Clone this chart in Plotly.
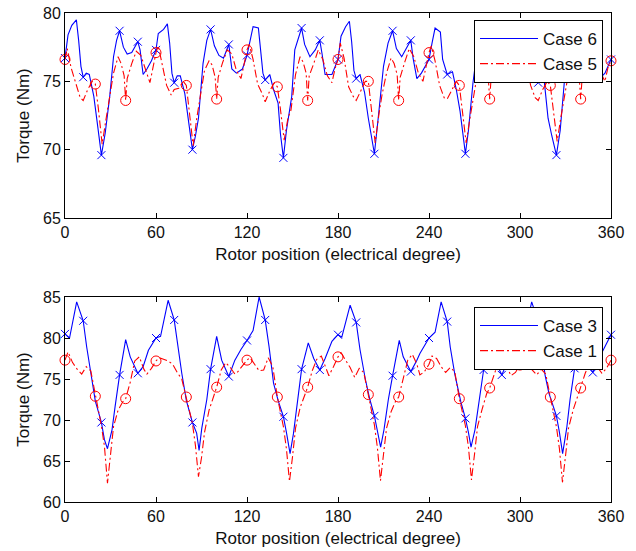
import plotly.graph_objects as go

# ---------------- data ----------------
x_ticks = [0, 60, 120, 180, 240, 300, 360]
y_ticks_top = [65, 70, 75, 80]
y_ticks_bot = [60, 65, 70, 75, 80, 85]

# Case 6 (top, blue solid)
case6_x = [0, 2, 4.5, 7.5, 9, 10.5, 12, 14, 16, 19, 21, 24, 26.5, 29.5, 32, 34, 36, 38.5, 41, 44, 48, 49.5, 51.5, 54, 57,
           60, 61.5, 65, 67.5, 69, 70.5, 72, 74, 76, 79, 81, 84, 86, 88, 91, 93.5, 96, 98.5, 101.5, 104.5, 108, 110, 113, 117,
           120, 122, 124, 127.5, 129, 130.5, 132, 135, 137.5, 140.5, 142, 144, 146, 149.5, 151.5, 156, 158, 161.5, 165, 168, 169.5, 171.5, 176,
           180, 182, 185, 187.5, 189, 190.5, 192, 194.5, 197.5, 200, 204, 206.5, 210, 213, 216, 218.5, 222, 225, 228, 229.5, 232, 235, 238,
           240, 242, 244, 247.5, 249, 252, 255.5, 258, 260.5, 264, 266, 269, 272, 276, 279, 282, 285, 288, 290, 292, 296,
           300, 302, 305, 307.5, 309, 310.5, 312, 314, 316, 318.5, 321, 324, 326.5, 329.5, 332, 336, 338.5, 341.5, 345, 348, 350, 352.5, 356, 360]
case6_y = [76.7, 78.4, 79.1, 79.5, 78.0, 76.1, 75.3, 75.6, 75.5, 73.9, 72.2, 69.6, 71.2, 73.9, 76.8, 78.0, 78.7, 77.5, 77.0, 77.1, 77.9, 77.3, 75.5, 75.9, 76.5,
           77.3, 78.5, 78.8, 79.2, 77.8, 75.6, 74.9, 75.4, 75.4, 74.1, 72.3, 70.0, 71.0, 72.3, 76.3, 78.0, 78.8, 77.6, 76.9, 76.7, 77.7, 75.9, 75.6, 75.9,
           76.9, 78.0, 79.0, 78.9, 77.2, 75.6, 75.1, 75.5, 74.4, 73.4, 71.2, 69.4, 71.4, 73.9, 77.3, 78.9, 77.7, 76.8, 77.3, 78.0, 77.0, 75.5, 75.5,
           76.6, 78.3, 79.0, 79.4, 77.9, 75.8, 75.2, 75.5, 74.2, 72.3, 69.7, 72.3, 76.1, 77.8, 78.7, 77.4, 76.8, 77.4, 78.0, 76.7, 75.2, 75.6, 76.2,
           76.6, 77.8, 78.9, 78.6, 76.6, 75.5, 75.7, 74.4, 72.8, 69.7, 71.4, 74.9, 77.5, 78.7, 77.5, 77.0, 77.2, 78.0, 76.5, 75.5, 76.0,
           77.0, 78.3, 79.0, 79.3, 77.5, 75.8, 74.9, 75.2, 75.0, 72.3, 71.0, 69.6, 71.4, 75.3, 77.5, 78.7, 77.5, 77.0, 77.2, 77.9, 76.5, 75.2, 75.6, 76.6]
case6_mark_x = [0, 12, 24, 36, 48, 60, 72, 84, 96, 108, 120, 132, 144, 156, 168, 180, 192, 204, 216, 228,
                240, 252, 264, 276, 288, 300, 312, 324, 336, 348, 360]
case6_mark_y = [76.7, 75.3, 69.6, 78.7, 77.9, 77.3, 74.9, 70.0, 78.8, 77.7, 76.9, 75.1, 69.4, 78.9, 78.0,
                76.6, 75.2, 69.7, 78.7, 78.0, 76.6, 75.5, 69.7, 78.7, 78.0, 77.0, 74.9, 69.6, 78.7, 77.9, 76.6]

# Case 5 (top, red dash-dot)
case5_x = [0, 1.5, 4, 7, 10, 12, 15, 18, 20, 22, 24.5, 27, 29, 32, 35, 37, 39, 40, 41, 44, 47, 50, 53, 56, 58,
           60, 61.5, 64, 67, 70, 72, 75, 78, 80, 82, 84.5, 87, 89, 92, 95, 97, 99, 100, 101, 104, 107, 110, 113, 116, 118,
           120, 121.5, 124, 127, 130, 132, 135, 138, 140, 142, 144.5, 147, 149, 152, 155, 157, 159, 160, 161, 164, 167, 170, 173, 176, 178,
           180, 181.5, 184, 187, 190, 192, 195, 198, 200, 202, 204.5, 207, 209, 212, 215, 217, 219, 220, 221, 224, 227, 230, 233, 236, 238,
           240, 241.5, 244, 247, 250, 252, 255, 258, 260, 262, 264.5, 267, 269, 272, 275, 277, 279, 280, 281, 284, 287, 290, 293, 296, 298,
           300, 301.5, 304, 307, 310, 312, 315, 318, 320, 322, 324.5, 327, 329, 332, 335, 337, 339, 340, 341, 344, 347, 350, 353, 356, 358,
           360]
case5_y = [76.6, 77.4, 76.0, 74.8, 73.8, 73.6, 74.4, 75.0, 74.8, 73.0, 70.4, 72.2, 73.6, 75.6, 76.8, 76.3, 75.4, 73.6, 75.2, 76.3, 77.2, 76.9, 75.9, 74.9, 76.0,
           77.1, 77.6, 76.3, 74.7, 74.0, 74.4, 74.5, 75.0, 74.7, 72.8, 70.3, 72.4, 73.8, 75.8, 76.5, 76.2, 75.3, 73.7, 75.3, 76.4, 77.3, 77.0, 75.8, 75.2, 76.2,
           77.3, 77.7, 76.6, 74.8, 74.1, 73.5, 74.3, 74.9, 74.6, 73.0, 70.7, 72.3, 72.9, 75.5, 76.8, 76.4, 75.6, 73.6, 75.4, 76.3, 77.3, 76.6, 75.4, 74.9, 75.9,
           76.6, 77.8, 76.7, 74.6, 73.9, 73.6, 74.3, 75.0, 75.0, 72.9, 70.5, 72.6, 74.0, 75.6, 76.7, 76.3, 75.5, 73.6, 75.3, 76.4, 77.4, 76.8, 75.6, 75.0, 76.1,
           77.1, 77.6, 76.5, 74.7, 73.8, 73.7, 74.4, 75.0, 74.7, 72.9, 70.5, 72.3, 73.7, 75.6, 76.8, 76.3, 75.4, 73.7, 75.3, 76.4, 77.2, 76.9, 75.7, 75.0, 76.2,
           77.0, 77.5, 76.4, 74.7, 73.8, 73.6, 74.4, 75.0, 74.7, 72.9, 70.6, 72.4, 73.8, 75.6, 76.7, 76.3, 75.4, 73.7, 75.3, 76.3, 77.2, 76.8, 75.7, 75.0, 76.0,
           76.5]
case5_mark_x = [0, 20, 40, 60, 80, 100, 120, 140, 160, 180, 200, 220, 240, 260, 280, 300, 320, 340, 360]
case5_mark_y = [76.6, 74.8, 73.6, 77.1, 74.7, 73.7, 77.3, 74.6, 73.6, 76.6, 75.0, 73.6, 77.1, 74.7, 73.7, 77.0, 74.7, 73.7, 76.5]

# Case 3 (bottom, blue solid)
case3_x = [0, 3, 7.7, 12, 14.3, 17.6, 20, 24, 26, 28, 31, 33, 36, 40, 43, 48, 51.5, 55,
           60, 63, 68, 72, 74.5, 77, 80, 84, 86.8, 88.4, 90.2, 93.5, 96, 100, 103.3, 108, 112, 116,
           120, 124, 128, 132, 134.5, 137.5, 140.5, 144, 146, 148.4, 150.6, 152.8, 156, 160.4, 164, 168, 171.5, 176,
           180, 182.5, 188, 192, 194.5, 198, 201, 204, 206, 208.1, 210.3, 213.2, 216, 220.4, 223, 228, 232, 234,
           240, 244, 248, 252, 254, 257, 261, 264, 266, 267.7, 270.3, 272.5, 276, 280, 283, 288, 291.5, 295,
           300, 303, 307.7, 312, 314.5, 316.5, 319, 324, 326, 328.1, 330.8, 333, 336, 340, 343, 348, 352, 357, 360]
case3_y = [80.5, 80.0, 84.4, 82.1, 78.9, 75.3, 72.3, 69.7, 67.6, 66.5, 68.8, 71.6, 75.5, 79.8, 77.7, 75.7, 76.5, 78.5,
           80.0, 80.2, 84.6, 82.2, 78.9, 75.7, 72.4, 69.7, 68.4, 66.3, 69.0, 72.5, 76.2, 80.2, 77.3, 75.3, 77.3, 78.6,
           79.7, 80.9, 85.0, 82.2, 79.0, 74.5, 72.4, 70.4, 68.5, 65.9, 68.3, 71.5, 76.2, 79.4, 77.5, 76.1, 77.5, 79.6,
           80.4, 80.1, 84.0, 81.9, 78.6, 75.0, 72.5, 70.5, 68.4, 66.7, 68.8, 72.5, 75.4, 79.7, 77.7, 75.9, 77.3, 78.1,
           80.0, 80.7, 84.4, 82.0, 78.9, 75.6, 72.2, 70.2, 68.5, 66.7, 68.8, 71.6, 76.1, 79.8, 77.5, 75.5, 77.0, 78.8,
           80.2, 80.3, 84.4, 82.0, 78.5, 75.5, 73.3, 70.5, 68.5, 65.9, 69.0, 72.5, 76.3, 80.0, 77.6, 75.8, 77.5, 79.4, 80.4]
case3_mark_x = [0, 12, 24, 36, 48, 60, 72, 84, 96, 108, 120, 132, 144, 156, 168, 180, 192, 204, 216, 228,
                240, 252, 264, 276, 288, 300, 312, 324, 336, 348, 360]
case3_mark_y = [80.5, 82.1, 69.7, 75.5, 75.7, 80.0, 82.2, 69.7, 76.2, 75.3, 79.7, 82.2, 70.4, 76.2, 76.1,
                80.4, 81.9, 70.5, 75.4, 75.9, 80.0, 82.0, 70.2, 76.1, 75.5, 80.2, 82.0, 70.5, 76.3, 75.8, 80.4]

# Case 1 (bottom, red dash-dot)
case1_x = [0, 2, 5, 8, 11, 14, 17, 20, 22, 24, 26, 28, 30, 32, 35, 38, 40, 43, 46, 49, 52, 54, 57,
           60, 62, 65, 68, 71, 74, 77, 80, 82, 84, 86, 88, 90, 92, 95, 98, 100, 103, 106, 109, 112, 114, 117,
           120, 122, 125, 128, 131, 134, 137, 140, 142, 144, 146, 148, 150, 152, 155, 158, 160, 163, 166, 169, 172, 174, 177,
           180, 182, 185, 188, 191, 194, 197, 200, 202, 204, 206, 208, 210, 212, 215, 218, 220, 223, 226, 229, 232, 234, 237,
           240, 242, 245, 248, 251, 254, 257, 260, 262, 264, 266, 268, 270, 272, 275, 278, 280, 283, 286, 289, 292, 294, 297,
           300, 302, 305, 308, 311, 314, 317, 320, 322, 324, 326, 328, 330, 332, 335, 338, 340, 343, 346, 349, 352, 354, 357,
           360]
case1_y = [77.3, 78.3, 77.0, 76.2, 75.6, 76.5, 76.0, 72.9, 71.2, 69.3, 66.8, 62.3, 66.0, 69.2, 71.2, 72.2, 72.6, 74.6, 77.2, 77.7, 76.2, 75.6, 76.3,
           77.2, 77.6, 77.4, 77.2, 76.8, 75.8, 75.0, 72.8, 71.0, 69.6, 66.9, 63.1, 65.4, 68.5, 71.2, 72.9, 74.0, 76.1, 77.0, 76.4, 75.6, 75.9, 76.6,
           77.3, 77.6, 76.8, 76.0, 76.1, 77.6, 76.5, 72.8, 71.0, 69.2, 66.5, 62.5, 65.5, 69.0, 71.5, 73.0, 74.0, 76.0, 77.4, 77.8, 76.4, 75.4, 76.5,
           77.7, 78.2, 77.3, 76.4, 75.2, 76.3, 75.8, 73.1, 71.3, 69.4, 66.6, 62.6, 65.8, 69.0, 71.0, 72.3, 72.8, 75.0, 77.3, 78.0, 76.8, 75.5, 75.9,
           76.8, 77.8, 77.5, 76.5, 75.8, 76.4, 75.9, 72.6, 71.0, 69.3, 66.7, 62.7, 65.8, 69.2, 71.3, 73.2, 73.9, 75.7, 77.2, 77.5, 76.3, 75.4, 75.8,
           76.7, 77.5, 77.0, 76.1, 75.5, 76.2, 75.6, 72.8, 71.0, 69.2, 66.5, 62.4, 65.6, 69.0, 71.2, 73.0, 73.9, 75.7, 77.0, 77.5, 76.2, 75.7, 76.3,
           77.3]
case1_mark_x = [0, 20, 40, 60, 80, 100, 120, 140, 160, 180, 200, 220, 240, 260, 280, 300, 320, 340, 360]
case1_mark_y = [77.3, 72.9, 72.6, 77.2, 72.8, 74.0, 77.3, 72.8, 74.0, 77.7, 73.1, 72.8, 76.8, 72.6, 73.9, 76.7, 72.8, 73.9, 77.3]

# ---------------- figure ----------------
BLUE = "#0000FF"
RED = "#FF0000"
FONT = "Liberation Sans, Arial, sans-serif"
DASHDOT = "8px,3px,2px,3px"
TXT = "#111111"

fig = go.Figure()

def add_pair(xl, yl, xm, ym, name, color, dash, symbol, msize, xa, ya, legend):
    fig.add_trace(go.Scatter(x=xl, y=yl, mode="lines", name=name,
                             line=dict(color=color, width=1.1, dash=dash),
                             xaxis=xa, yaxis=ya, legend=legend, cliponaxis=False))
    fig.add_trace(go.Scatter(x=xm, y=ym, mode="markers", showlegend=False,
                             marker=dict(symbol=symbol, size=msize, color=color,
                                         line=dict(color=color, width=1)),
                             xaxis=xa, yaxis=ya, cliponaxis=False))

add_pair(case6_x, case6_y, case6_mark_x, case6_mark_y, "Case 6", BLUE, "solid", "x-thin-open", 8, "x", "y", "legend")
add_pair(case5_x, case5_y, case5_mark_x, case5_mark_y, "Case 5", RED, DASHDOT, "circle-open", 10, "x", "y", "legend")
add_pair(case3_x, case3_y, case3_mark_x, case3_mark_y, "Case 3", BLUE, "solid", "x-thin-open", 8, "x2", "y2", "legend2")
add_pair(case1_x, case1_y, case1_mark_x, case1_mark_y, "Case 1", RED, DASHDOT, "circle-open", 10, "x2", "y2", "legend2")

# the page body margin is removed by a post-script, so pixel coords are absolute
W, H = 636, 551
ML, MR = 65, 25
MT, MB = 13, 49
PH = H - MT - MB  # plot-area height in px

def ydom(top_px, bot_px):
    return [(H - MB - bot_px) / PH, (H - MB - top_px) / PH]

def lx(px):
    return (px - ML) / (W - ML - MR)

def ly(py):
    return (H - MB - py) / PH

axis_common = dict(showline=True, linecolor="black", linewidth=1, mirror="ticks",
                   ticks="inside", ticklen=5, tickcolor="black", showgrid=False, zeroline=False,
                   automargin=False, ticklabeloverflow="allow",
                   tickfont=dict(family=FONT, size=16, color=TXT))
title_font = dict(family=FONT, size=17, color=TXT)

fig.update_layout(
    width=W, height=H,
    margin=dict(l=ML, r=MR, t=MT, b=MB, autoexpand=False),
    paper_bgcolor="white", plot_bgcolor="white",
    font=dict(family=FONT, size=16, color=TXT),
    xaxis=dict(domain=[0, 1], anchor="y", range=[0, 360], tickvals=x_ticks,
               title=dict(text="Rotor position (electrical degree)", font=title_font, standoff=7),
               **axis_common),
    yaxis=dict(domain=ydom(13, 218), anchor="x", range=[65, 80], tickvals=y_ticks_top,
               title=dict(text="Torque (Nm)", font=title_font, standoff=9),
               **axis_common),
    xaxis2=dict(domain=[0, 1], anchor="y2", range=[0, 360], tickvals=x_ticks,
                title=dict(text="Rotor position (electrical degree)", font=title_font, standoff=7),
                **axis_common),
    yaxis2=dict(domain=ydom(297, 502), anchor="x2", range=[60, 85], tickvals=y_ticks_bot,
                title=dict(text="Torque (Nm)", font=title_font, standoff=9),
                **axis_common),
    legend=dict(x=lx(603), y=ly(20), xanchor="right", yanchor="top",
                bgcolor="white", bordercolor="black", borderwidth=1,
                font=dict(family=FONT, size=17, color=TXT), itemwidth=58,
                tracegroupgap=0),
    legend2=dict(x=lx(603), y=ly(307), xanchor="right", yanchor="top",
                 bgcolor="white", bordercolor="black", borderwidth=1,
                 font=dict(family=FONT, size=17, color=TXT), itemwidth=58,
                 tracegroupgap=0),
    showlegend=True,
)

fig.write_html("out.html",
               config={"displayModeBar": False},
               post_script="document.body.style.margin='0';document.body.style.overflow='hidden';")
